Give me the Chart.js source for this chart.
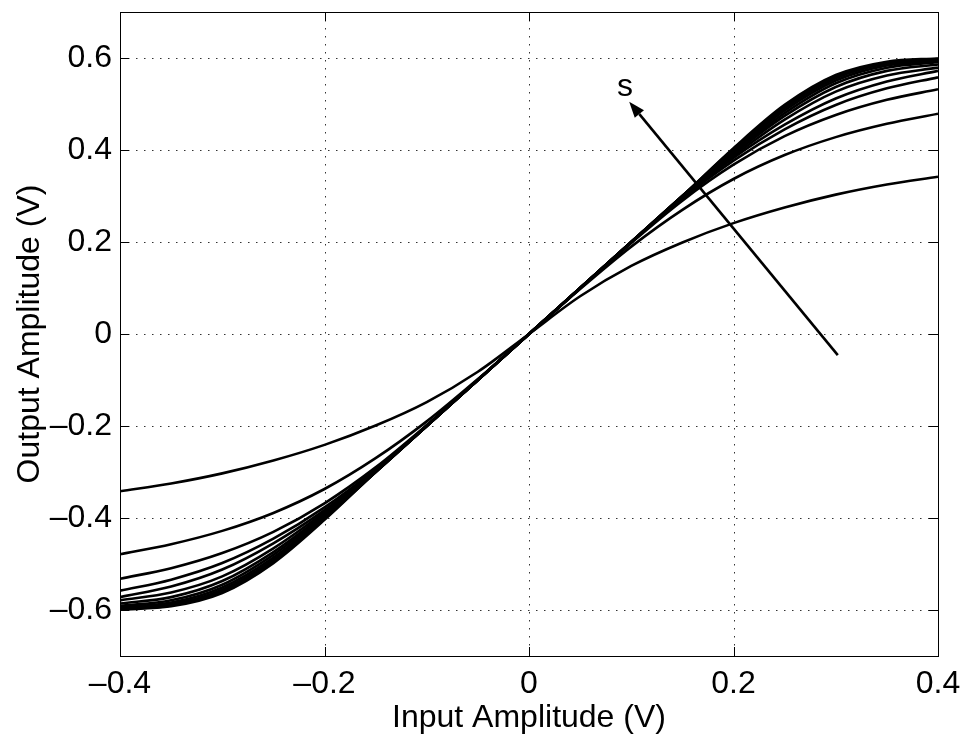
<!DOCTYPE html>
<html>
<head>
<meta charset="utf-8">
<script src="https://cdn.jsdelivr.net/npm/chart.js@4.4.1/dist/chart.umd.min.js"></script>
<style>
  html, body { margin: 0; padding: 0; background: #fff; }
  #wrap { width: 970px; height: 740px; position: relative; }
</style>
</head>
<body>
<div id="wrap"><canvas id="c" width="970" height="740"></canvas></div>
<script>
// ---- data ----
const xVals = [-0.4, -0.35, -0.3, -0.25, -0.2, -0.15, -0.1, -0.05, 0, 0.05, 0.1, 0.15, 0.2, 0.25, 0.3, 0.35, 0.4];
const s1  = [-0.342, -0.325, -0.303, -0.275, -0.241, -0.199, -0.148, -0.082, 0, 0.082, 0.148, 0.199, 0.241, 0.275, 0.303, 0.325, 0.342];
const s2  = [-0.479, -0.457, -0.428, -0.389, -0.337, -0.270, -0.190, -0.098, 0, 0.098, 0.190, 0.270, 0.337, 0.389, 0.428, 0.457, 0.479];
const s3  = [-0.532, -0.509, -0.476, -0.430, -0.368, -0.290, -0.198, -0.100, 0, 0.100, 0.198, 0.290, 0.368, 0.430, 0.476, 0.509, 0.532];
const s4  = [-0.558, -0.534, -0.498, -0.445, -0.377, -0.294, -0.199, -0.100, 0, 0.100, 0.199, 0.294, 0.377, 0.445, 0.498, 0.534, 0.558];
const s5  = [-0.572, -0.549, -0.512, -0.455, -0.383, -0.297, -0.200, -0.100, 0, 0.100, 0.200, 0.297, 0.383, 0.455, 0.512, 0.549, 0.572];
const s6  = [-0.579, -0.562, -0.527, -0.466, -0.387, -0.298, -0.200, -0.100, 0, 0.100, 0.200, 0.298, 0.387, 0.466, 0.527, 0.562, 0.579];
const s7  = [-0.586, -0.572, -0.537, -0.474, -0.391, -0.299, -0.200, -0.100, 0, 0.100, 0.200, 0.299, 0.391, 0.474, 0.537, 0.572, 0.586];
const s8  = [-0.591, -0.579, -0.545, -0.480, -0.394, -0.300, -0.200, -0.100, 0, 0.100, 0.200, 0.300, 0.394, 0.480, 0.545, 0.579, 0.591];
const s9  = [-0.594, -0.584, -0.551, -0.486, -0.397, -0.300, -0.200, -0.100, 0, 0.100, 0.200, 0.300, 0.397, 0.486, 0.551, 0.584, 0.594];
const s10 = [-0.597, -0.588, -0.556, -0.491, -0.400, -0.300, -0.200, -0.100, 0, 0.100, 0.200, 0.300, 0.400, 0.491, 0.556, 0.588, 0.597];
const s11 = [-0.598, -0.590, -0.560, -0.495, -0.402, -0.300, -0.200, -0.100, 0, 0.100, 0.200, 0.300, 0.402, 0.495, 0.560, 0.590, 0.598];
const s12 = [-0.599, -0.592, -0.563, -0.498, -0.404, -0.300, -0.200, -0.100, 0, 0.100, 0.200, 0.300, 0.404, 0.498, 0.563, 0.592, 0.599];
const seriesList = [s1, s2, s3, s4, s5, s6, s7, s8, s9, s10, s11, s12];

const xTicks = [-0.4, -0.2, 0, 0.2, 0.4];
const yTicks = [-0.6, -0.4, -0.2, 0, 0.2, 0.4, 0.6];
const xTitle = 'Input Amplitude (V)';
const yTitle = 'Output Amplitude (V)';
// arrow annotation (data units): tail, head, label
const arrowTail = [0.302, -0.046];
const arrowHead = [0.098, 0.505];
const arrowLabel = [0.094, 0.537];
const arrowText = 's';

const FONT = '"Liberation Sans", Arial, Helvetica, sans-serif';
const FSIZE = 32;

function fmt(v) {
  if (Math.abs(v) < 1e-9) return '0';
  const s = Math.abs(v).toFixed(1);
  return (v < 0 ? '\u2013' : '') + s;
}

const datasets = seriesList.map((s) => ({
  data: xVals.map((x, i) => ({ x: x, y: s[i] })),
  borderColor: '#000',
  borderWidth: 2.6,
  pointRadius: 0,
  showLine: true,
  fill: false,
  cubicInterpolationMode: 'monotone'
}));

const gridPlugin = {
  id: 'matlabGrid',
  beforeDatasetsDraw(chart) {
    const { ctx, chartArea: a, scales: { x, y } } = chart;
    ctx.save();
    ctx.strokeStyle = '#333';
    ctx.lineWidth = 1;
    ctx.setLineDash([1.5, 6.5]);
    xTicks.forEach(v => {
      const px = Math.round(x.getPixelForValue(v)) + 0.5;
      ctx.beginPath(); ctx.moveTo(px, a.top); ctx.lineTo(px, a.bottom); ctx.stroke();
    });
    yTicks.forEach(v => {
      const py = Math.round(y.getPixelForValue(v)) + 0.5;
      ctx.beginPath(); ctx.moveTo(a.left, py); ctx.lineTo(a.right, py); ctx.stroke();
    });
    ctx.restore();
  },
  afterDatasetsDraw(chart) {
    const { ctx, chartArea: a, scales: { x, y } } = chart;
    ctx.save();
    // arrow
    const tx = x.getPixelForValue(arrowTail[0]), ty = y.getPixelForValue(arrowTail[1]);
    const hx = x.getPixelForValue(arrowHead[0]), hy = y.getPixelForValue(arrowHead[1]);
    const ang = Math.atan2(hy - ty, hx - tx);
    const hl = 16, hw = 6;
    const bx = hx - hl * Math.cos(ang), by = hy - hl * Math.sin(ang);
    ctx.strokeStyle = '#000';
    ctx.fillStyle = '#000';
    ctx.lineWidth = 2.6;
    ctx.beginPath(); ctx.moveTo(tx, ty); ctx.lineTo(bx, by); ctx.stroke();
    ctx.beginPath();
    ctx.moveTo(hx, hy);
    ctx.lineTo(bx + hw * Math.sin(ang), by - hw * Math.cos(ang));
    ctx.lineTo(bx - hw * Math.sin(ang), by + hw * Math.cos(ang));
    ctx.closePath(); ctx.fill();
    // label
    ctx.font = FSIZE + 'px ' + FONT;
    ctx.textAlign = 'center';
    ctx.textBaseline = 'middle';
    ctx.fillText(arrowText, x.getPixelForValue(arrowLabel[0]), y.getPixelForValue(arrowLabel[1]));
    // box
    ctx.lineWidth = 1;
    ctx.strokeStyle = '#000';
    ctx.strokeRect(Math.round(a.left) + 0.5, Math.round(a.top) + 0.5,
      Math.round(a.right - a.left), Math.round(a.bottom - a.top));
    // inward ticks on all four sides
    const tl = 9;
    ctx.beginPath();
    xTicks.forEach(v => {
      const px = Math.round(x.getPixelForValue(v)) + 0.5;
      ctx.moveTo(px, a.bottom); ctx.lineTo(px, a.bottom - tl);
      ctx.moveTo(px, a.top); ctx.lineTo(px, a.top + tl);
    });
    yTicks.forEach(v => {
      const py = Math.round(y.getPixelForValue(v)) + 0.5;
      ctx.moveTo(a.left, py); ctx.lineTo(a.left + tl, py);
      ctx.moveTo(a.right, py); ctx.lineTo(a.right - tl, py);
    });
    ctx.stroke();
    ctx.restore();
  }
};

new Chart(document.getElementById('c'), {
  type: 'scatter',
  data: { datasets },
  plugins: [gridPlugin],
  options: {
    responsive: false,
    animation: false,
    events: [],
    layout: { padding: { left: 0, right: 32, top: 12, bottom: 0 } },
    plugins: { legend: { display: false }, tooltip: { enabled: false }, title: { display: false } },
    scales: {
      x: {
        type: 'linear', min: -0.4, max: 0.4,
        afterBuildTicks: (s) => { s.ticks = xTicks.map(v => ({ value: v })); },
        afterFit: (s) => { s.height = 84; s.paddingLeft = 0; s.paddingRight = 0; },
        grid: { display: false, drawTicks: false },
        border: { display: false },
        ticks: { color: '#000', font: { family: FONT, size: FSIZE }, padding: 9, maxRotation: 0, autoSkip: false,
                 callback: (v) => fmt(v) },
        title: { display: true, text: xTitle, color: '#000', font: { family: FONT, size: FSIZE }, padding: { top: 0, bottom: 3 } }
      },
      y: {
        type: 'linear', min: -0.7, max: 0.7,
        afterBuildTicks: (s) => { s.ticks = yTicks.map(v => ({ value: v })); },
        afterFit: (s) => { s.width = 120; s.paddingTop = 0; s.paddingBottom = 0; },
        grid: { display: false, drawTicks: false },
        border: { display: false },
        ticks: { color: '#000', font: { family: FONT, size: FSIZE }, padding: 8, autoSkip: false,
                 callback: (v) => fmt(v) },
        title: { display: true, text: yTitle, color: '#000', font: { family: FONT, size: FSIZE }, padding: { top: 11, bottom: 0 } }
      }
    }
  }
});
</script>
</body>
</html>
